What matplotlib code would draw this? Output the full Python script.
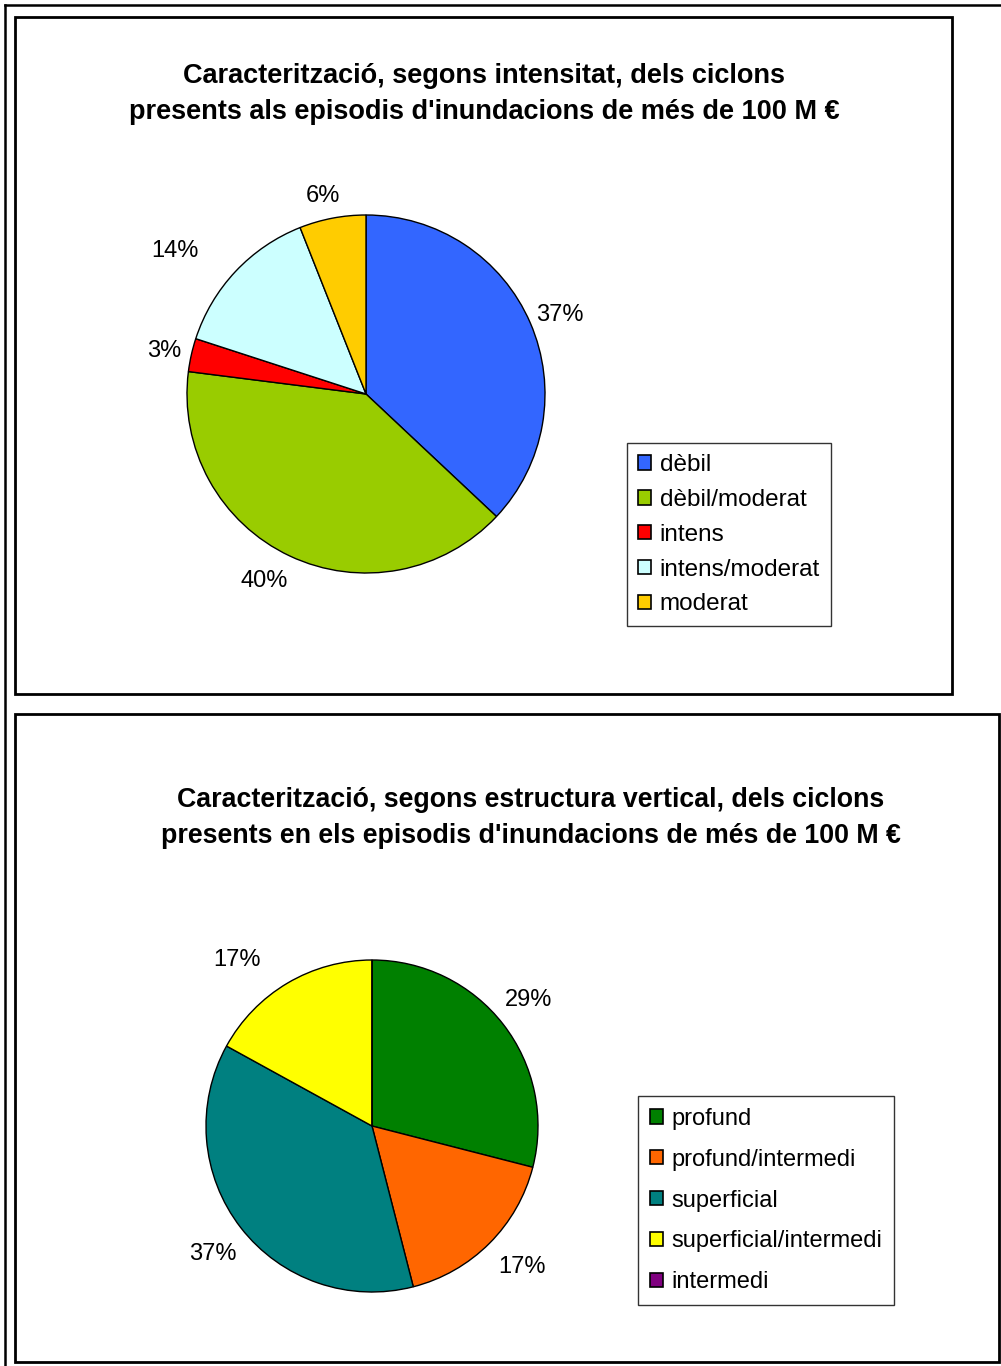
import numpy as np
import matplotlib.pyplot as plt
from matplotlib.lines import Line2D
from matplotlib.patches import Rectangle

plt.rcParams['font.family'] = ['Liberation Sans', 'DejaVu Sans']

# Intensitat dels ciclons (%)
intensitat_labels = ['dèbil', 'dèbil/moderat', 'intens', 'intens/moderat', 'moderat']
intensitat_values = [37, 40, 3, 14, 6]
intensitat_colors = ['#3366FF', '#99CC00', '#FF0000', '#CCFFFF', '#FFCC00']

# Estructura vertical dels ciclons (%)
estructura_labels = ['profund', 'profund/intermedi', 'superficial',
                     'superficial/intermedi', 'intermedi']
estructura_values = [29, 17, 37, 17, 0]
estructura_colors = ['#008000', '#FF6600', '#008080', '#FFFF00', '#800080']

W, H = 1001, 1366
fig = plt.figure(figsize=(W / 100, H / 100), dpi=100)


def px_rect(x0, y0, x1, y1):
    # pixel box (top-left origin) -> figure fraction [l, b, w, h]
    return [x0 / W, 1 - y1 / H, (x1 - x0) / W, (y1 - y0) / H]


def frame(x0, y0, x1, y1, lw=2.0):
    l, b, w, h = px_rect(x0, y0, x1, y1)
    fig.patches.append(Rectangle((l, b), w, h, transform=fig.transFigure,
                                 fill=False, edgecolor='black', linewidth=lw))


def draw_pie(center, radius, values, colors, label_dist, label_shift):
    cx, cy = center
    ax = fig.add_axes(px_rect(cx - radius, cy - radius, cx + radius, cy + radius))
    wedges, _, pcts = ax.pie(values, colors=colors, startangle=90, counterclock=False,
                             autopct=lambda p: '%1.0f%%' % p if p > 0 else '',
                             pctdistance=1.0,
                             wedgeprops=dict(edgecolor='black', linewidth=1.0),
                             textprops=dict(fontsize=17, color='black'))
    # push the percentages outside the pie, nudged clockwise by label_shift degrees
    for w, t, f, s in zip(wedges, pcts, label_dist, label_shift):
        ang = np.deg2rad((w.theta1 + w.theta2) / 2 - s)
        t.set_position((f * np.cos(ang), f * np.sin(ang)))
        t.set_ha('center')
        t.set_va('center')
    ax.set_xlim(-1, 1)
    ax.set_ylim(-1, 1)
    ax.set_aspect('auto')
    return wedges


def draw_legend(wedges, labels, x0, y0, size, spacing, pad):
    handles = [Rectangle((0, 0), 1, 1, facecolor=w.get_facecolor(),
                         edgecolor='black', linewidth=1.2) for w in wedges]
    leg = fig.legend(handles, labels, loc='upper left',
                     bbox_to_anchor=(x0 / W, 1 - y0 / H),
                     fontsize=size, frameon=True, fancybox=False, shadow=False,
                     handlelength=0.55, handleheight=0.55, handletextpad=0.35,
                     labelspacing=spacing, borderpad=pad, borderaxespad=0)
    leg.get_frame().set_edgecolor('black')
    leg.get_frame().set_linewidth(1.0)
    return leg


# outer page lines
fig.add_artist(Line2D([5 / W, 1], [1 - 5 / H] * 2, transform=fig.transFigure,
                      color='black', linewidth=1.8))
fig.add_artist(Line2D([5 / W] * 2, [0, 1 - 5 / H], transform=fig.transFigure,
                      color='black', linewidth=1.8))

# top chart
frame(15, 17, 952, 694)
fig.text(484 / W, 1 - 94 / H,
         "Caracterització, segons intensitat, dels ciclons\n"
         "presents als episodis d'inundacions de més de 100 M €",
         ha='center', va='center', fontsize=19.5, fontweight='bold', linespacing=1.48)
w1 = draw_pie((366, 394), 179, intensitat_values, intensitat_colors,
              [1.17, 1.19, 1.15, 1.33, 1.13], [1.2, 3.4, -0.6, -6.4, -1.5])
draw_legend(w1, intensitat_labels, 627, 443, 17.5, 0.53, 0.45)

# bottom chart
frame(15, 714, 999, 1362)
fig.text(531 / W, 1 - 818 / H,
         "Caracterització, segons estructura vertical, dels ciclons\n"
         "presents en els episodis d'inundacions de més de 100 M €",
         ha='center', va='center', fontsize=19.3, fontweight='bold', linespacing=1.5)
w2 = draw_pie((372, 1126), 166, estructura_values, estructura_colors,
              [1.21, 1.24, 1.23, 1.29, 1.2], [-1.1, -1.8, -1.0, -8.5, 0])
draw_legend(w2, estructura_labels, 638, 1096, 17, 0.8, 0.5)

fig.savefig('out.png', dpi=100)
